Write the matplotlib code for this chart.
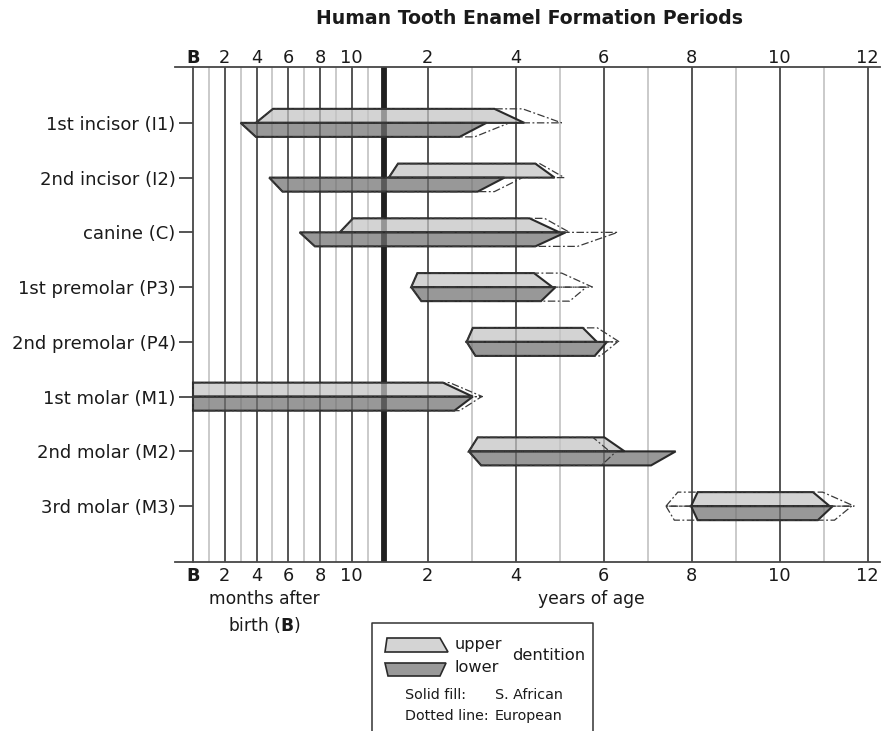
import numpy as np
import matplotlib.pyplot as plt
from matplotlib.patches import Polygon

# tooth rows, top to bottom
teeth = ['1st incisor (I1)', '2nd incisor (I2)', 'canine (C)', '1st premolar (P3)',
         '2nd premolar (P4)', '1st molar (M1)', '2nd molar (M2)', '3rd molar (M3)']

# enamel formation, in years: (start at mid line, start at outer edge,
#                              end at outer edge, end at mid line)
upper_sa = [(0.33, 0.42, 3.52, 4.20),
            (1.12, 1.33, 4.45, 4.89),
            (0.77, 0.84, 4.32, 5.00),
            (1.63, 1.77, 4.42, 4.84),
            (2.89, 3.03, 5.53, 5.85),
            (0.00, 0.00, 2.35, 3.03),
            (2.94, 3.14, 6.02, 6.48),
            (7.99, 8.14, 10.76, 11.14)]
lower_sa = [(0.25, 0.33, 2.73, 3.34),
            (0.40, 0.47, 3.14, 3.75),
            (0.56, 0.64, 4.45, 5.14),
            (1.63, 1.86, 4.58, 4.91),
            (2.89, 3.09, 5.80, 6.08),
            (0.00, 0.00, 2.61, 3.03),
            (2.94, 3.22, 7.08, 7.64),
            (7.99, 8.14, 10.87, 11.21)]
upper_eu = [(0.33, 0.42, 4.16, 5.05),
            (1.12, 1.33, 4.55, 5.11),
            (0.77, 0.84, 4.66, 5.23),
            (1.63, 1.77, 5.05, 5.75),
            (2.89, 3.03, 5.86, 6.36),
            (0.00, 0.00, 2.50, 3.25),
            (2.94, 3.14, 5.76, 6.14),
            (7.42, 7.69, 10.98, 11.70)]
lower_eu = [(0.25, 0.33, 3.07, 3.86),
            (0.40, 0.47, 3.52, 4.16),
            (0.56, 0.64, 5.41, 6.32),
            (1.63, 1.86, 5.23, 5.61),
            (2.89, 3.09, 5.93, 6.32),
            (0.00, 0.00, 2.73, 3.23),
            (2.94, 3.22, 5.95, 6.29),
            (7.42, 7.61, 11.25, 11.64)]

month_ticks = [0, 2, 4, 6, 8, 10]
year_ticks = [2, 4, 6, 8, 10, 12]
tick_labels = ['B', '2', '4', '6', '8', '10', '2', '4', '6', '8', '10', '12']

# first year is stretched: months get their own wide section of the axis
K = 190.5 / 44


def fwd(t):
    t = np.asarray(t, dtype=float)
    return np.where(t < 1, t * K, K + t - 1)


def inv(s):
    s = np.asarray(s, dtype=float)
    return np.where(s < K, s / K, s - K + 1)


INK = '#1a1a1a'
DARK = '#474747'
LIGHT = '#c6c6c6'
H = 0.256

fig = plt.figure(figsize=(8.93, 7.31), dpi=100)
ax = fig.add_axes([175 / 893, 1 - 562 / 731, 705 / 893, 495 / 731])
ax.set_xscale('function', functions=(fwd, inv))

# vertical grid: months, the 1-year mark, then years
for m in range(1, 12):
    ax.axvline(m / 12, color=LIGHT if m % 2 else DARK, lw=1.3, zorder=1)
ax.axvline(1, color='#202020', lw=4.2, zorder=1)
for yr in range(2, 13):
    ax.axvline(yr, color=DARK if yr % 2 == 0 else LIGHT, lw=1.3, zorder=1)


def shape(v, y, side):
    a, b, c, d = v
    return [(a, y), (b, y + side * H), (c, y + side * H), (d, y)]


for i in range(len(teeth)):
    ax.add_patch(Polygon(shape(upper_sa[i], i, -1), closed=True,
                         facecolor=(0.765, 0.765, 0.765, 0.72), edgecolor='#2a2a2a',
                         lw=1.5, zorder=3))
    ax.add_patch(Polygon(shape(lower_sa[i], i, 1), closed=True,
                         facecolor=(0.445, 0.445, 0.445, 0.72), edgecolor='#2a2a2a',
                         lw=1.5, zorder=3))
    for v, side in ((upper_eu[i], -1), (lower_eu[i], 1)):
        ax.add_patch(Polygon(shape(v, i, side), closed=True, fill=False,
                             edgecolor='#3a3a3a', lw=0.9,
                             linestyle=(0, (6, 2, 1.5, 2)), zorder=4))

xpos = [m / 12 for m in month_ticks] + year_ticks
xlim = (-0.0945, 12.284)
ax.set_xlim(*xlim)
ax.set_ylim(8.02, -1.02)

ax.set_xticks(xpos, tick_labels)
ax.tick_params(axis='x', length=0, pad=3.5, labelsize=12.8, labelcolor=INK)
ax.set_yticks(range(len(teeth)), teeth)
ax.tick_params(axis='y', length=10, width=1.3, color=DARK, pad=2.5,
               labelsize=13, labelcolor=INK)

ax.spines['left'].set_position(('data', 0))
ax.spines['right'].set_visible(False)
for s in ('left', 'top', 'bottom'):
    ax.spines[s].set_color(DARK)
    ax.spines[s].set_linewidth(1.3)

# same ticks along the top
ax2 = ax.twiny()
ax2.set_xscale('function', functions=(fwd, inv))
ax2.set_xlim(*xlim)
ax2.set_xticks(xpos, tick_labels)
ax2.tick_params(axis='x', length=0, pad=0, labelsize=12.8, labelcolor=INK)
for s in ax2.spines.values():
    s.set_visible(False)

for lbl in (ax.get_xticklabels()[0], ax2.get_xticklabels()[0]):
    lbl.set_fontweight('bold')

# overlay in pixel units for titles and the key
ov = fig.add_axes([0, 0, 1, 1])
ov.set_xlim(0, 893)
ov.set_ylim(731, 0)
ov.axis('off')

ov.text(530, 18, 'Human Tooth Enamel Formation Periods', ha='center', va='center',
        fontsize=13.6, fontweight='bold', color=INK)
ov.text(264, 599, 'months after', ha='center', va='center', fontsize=12.3, color=INK)
ov.text(264, 625, r'birth ($\mathbf{B}$)', ha='center', va='center', fontsize=12.3,
        color=INK)
ov.text(591, 599, 'years of age', ha='center', va='center', fontsize=12.3, color=INK)

# key box (open at the bottom edge)
ov.plot([372, 372, 593, 593], [731, 623, 623, 731], color='#333333', lw=1.1)
ov.add_patch(Polygon([(387, 638), (440, 638), (448, 652), (385, 652)], closed=True,
                     facecolor='#d4d4d4', edgecolor='#2a2a2a', lw=1.2))
ov.add_patch(Polygon([(385, 663), (446, 663), (440, 676), (388, 676)], closed=True,
                     facecolor='#999999', edgecolor='#2a2a2a', lw=1.2))
ov.text(455, 645, 'upper', ha='left', va='center', fontsize=11.6, color=INK)
ov.text(455, 668, 'lower', ha='left', va='center', fontsize=11.6, color=INK)
ov.text(512, 656, 'dentition', ha='left', va='center', fontsize=11.8, color=INK)
ov.text(405, 695, 'Solid fill:', ha='left', va='center', fontsize=10.3, color=INK)
ov.text(495, 695, 'S. African', ha='left', va='center', fontsize=10.3, color=INK)
ov.text(405, 716, 'Dotted line:', ha='left', va='center', fontsize=10.3, color=INK)
ov.text(495, 716, 'European', ha='left', va='center', fontsize=10.3, color=INK)

fig.savefig('out.png', dpi=100)
